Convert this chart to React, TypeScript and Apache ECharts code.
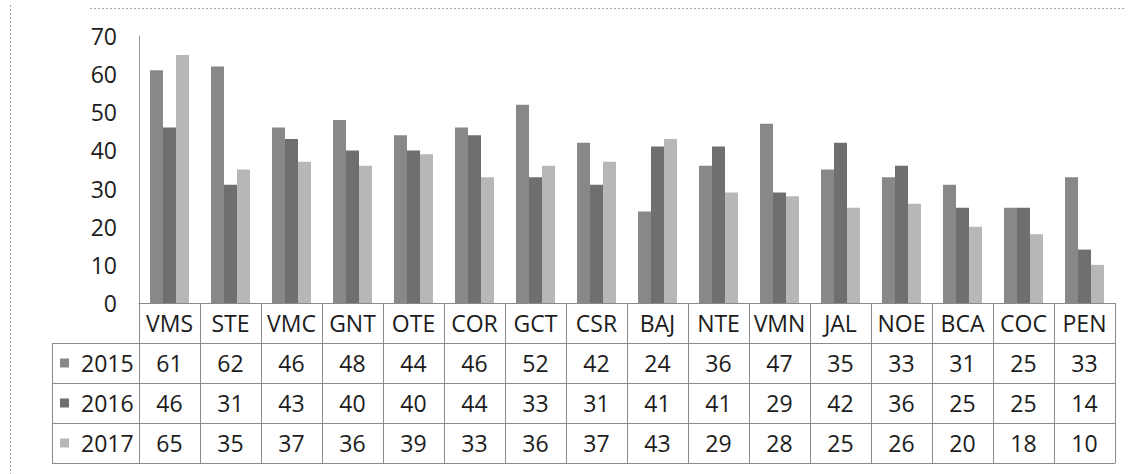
import React, { useEffect, useRef } from "react";
import * as echarts from "echarts";

// Station codes and yearly counts
const categories = ["VMS", "STE", "VMC", "GNT", "OTE", "COR", "GCT", "CSR", "BAJ", "NTE", "VMN", "JAL", "NOE", "BCA", "COC", "PEN"];
const years = ["2015", "2016", "2017"];
const values2015 = [61, 62, 46, 48, 44, 46, 52, 42, 24, 36, 47, 35, 33, 31, 25, 33];
const values2016 = [46, 31, 43, 40, 40, 44, 33, 31, 41, 41, 29, 42, 36, 25, 25, 14];
const values2017 = [65, 35, 37, 36, 39, 33, 36, 37, 43, 29, 28, 25, 26, 20, 18, 10];
const yTicks = [0, 10, 20, 30, 40, 50, 60, 70];

const seriesValues = [values2015, values2016, values2017];
const colors = ["#888888", "#6f6f6f", "#b7b7b7"];

const FONT = "'Open Sans', 'Noto Sans', sans-serif";
const FS = 23;
const TEXT = "#1c1c1c";
const BORDER = "#8a8a8a";

const W = 1135;
const H = 474;
const GRID_LEFT = 139;
const GRID_RIGHT = 20;
const GRID_TOP = 36;
const BASE_Y = 303; // bottom of plot area
const ROW_H = 40;
const HEAD_LEFT = 52;

export default function App() {
  const ref = useRef<HTMLDivElement>(null);

  useEffect(() => {
    document.body.style.margin = "0";
    if (!ref.current) return;
    const chart = echarts.init(ref.current, null, { renderer: "svg" });

    const tableAxis = (offset: number, rowValues: number[] | null, showLabels = true) => ({
      type: "category",
      gridIndex: 0,
      position: "bottom",
      offset,
      data: categories,
      boundaryGap: true,
      axisLine: { show: true, lineStyle: { color: BORDER, width: 1 } },
      axisTick: {
        show: showLabels,
        interval: 0,
        length: ROW_H,
        lineStyle: { color: BORDER, width: 1 },
      },
      axisLabel: {
        show: showLabels,
        interval: 0,
        margin: ROW_H / 2,
        verticalAlign: "middle",
        fontFamily: FONT,
        fontSize: FS,
        color: TEXT,
        formatter: (v: string, i: number) => (rowValues ? String(rowValues[i]) : v),
      },
      splitLine: { show: false },
    });

    const rowGraphics: any[] = [];
    // outer left column of the data table
    [1, 2, 3, 4].forEach((r) => {
      const y = BASE_Y + r * ROW_H + 0.5;
      rowGraphics.push({
        type: "line",
        shape: { x1: HEAD_LEFT, y1: y, x2: GRID_LEFT, y2: y },
        style: { stroke: BORDER, lineWidth: 1 },
      });
    });
    rowGraphics.push({
      type: "line",
      shape: { x1: HEAD_LEFT + 0.5, y1: BASE_Y + ROW_H, x2: HEAD_LEFT + 0.5, y2: BASE_Y + 4 * ROW_H },
      style: { stroke: BORDER, lineWidth: 1 },
    });
    years.forEach((yr, i) => {
      const cy = BASE_Y + (i + 1) * ROW_H + ROW_H / 2;
      rowGraphics.push({
        type: "rect",
        shape: { x: 60, y: cy - 4.5, width: 9, height: 9 },
        style: { fill: colors[i] },
      });
      rowGraphics.push({
        type: "text",
        x: 81,
        y: cy,
        style: {
          text: yr,
          fontFamily: FONT,
          fontSize: FS,
          fill: TEXT,
          verticalAlign: "middle",
          align: "left",
        },
      });
    });
    // dotted frame of the chart area
    rowGraphics.push({
      type: "line",
      shape: { x1: 90, y1: 8.5, x2: 1126, y2: 8.5 },
      style: { stroke: "#a8a8a8", lineWidth: 1, lineDash: [2, 2] },
    });
    rowGraphics.push({
      type: "line",
      shape: { x1: 10.5, y1: 5, x2: 10.5, y2: H },
      style: { stroke: "#a8a8a8", lineWidth: 1, lineDash: [2, 2] },
    });

    chart.setOption({
      animation: false,
      backgroundColor: "#ffffff",
      grid: {
        left: GRID_LEFT,
        right: GRID_RIGHT,
        top: GRID_TOP,
        bottom: H - BASE_Y,
        containLabel: false,
      },
      xAxis: [
        tableAxis(0, null),
        tableAxis(ROW_H, values2015),
        tableAxis(ROW_H * 2, values2016),
        tableAxis(ROW_H * 3, values2017),
        tableAxis(ROW_H * 4, null, false),
      ],
      yAxis: {
        type: "value",
        min: yTicks[0],
        max: yTicks[yTicks.length - 1],
        interval: 10,
        axisLine: { show: true, lineStyle: { color: "#9a9a9a", width: 1 } },
        axisTick: { show: false },
        splitLine: { show: false },
        axisLabel: {
          margin: 22,
          fontFamily: FONT,
          fontSize: FS,
          color: TEXT,
        },
      },
      series: seriesValues.map((vals, i) => ({
        name: years[i],
        type: "bar",
        xAxisIndex: 0,
        data: vals,
        barWidth: 13,
        barGap: "0%",
        itemStyle: { color: colors[i] },
      })),
      graphic: rowGraphics,
    });

    return () => chart.dispose();
  }, []);

  return <div ref={ref} style={{ width: W, height: H }} />;
}
